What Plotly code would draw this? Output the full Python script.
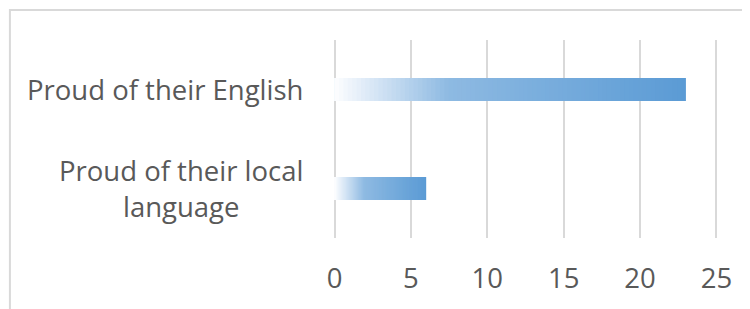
import plotly.graph_objects as go

categories = ["Proud of their English", "Proud of their local language"]
category_labels = ["Proud of their English", "Proud of their local<br>language"]
values = [23, 6]
x_ticks = [0, 5, 10, 15, 20, 25]

# gradient stops (fraction of bar length -> rgb)
stops = [(0.0, (255, 255, 255)), (0.08, (228, 238, 249)), (0.33, (142, 186, 226)), (1.0, (91, 155, 213))]


def grad(f):
    for (f0, c0), (f1, c1) in zip(stops[:-1], stops[1:]):
        if f <= f1:
            t = (f - f0) / (f1 - f0) if f1 > f0 else 0
            return "rgb(%d,%d,%d)" % tuple(round(a + (b - a) * t) for a, b in zip(c0, c1))
    return "rgb(%d,%d,%d)" % stops[-1][1]


FONT = "Open Sans"
GRAY = "#595959"
# page body has an 8px margin, so the figure is 742x301 placed at (8, 8)
W, H = 742, 301
L, R, T, B = 324.5, 32, 32, 71
pw = W - L - R
ph = H - T - B
BAR_W = 23 / (ph / len(categories))  # bar thickness in category units (pixel aligned)

N = 80
fig = go.Figure()
for k in range(N, 0, -1):
    frac = k / N
    fig.add_trace(go.Bar(
        y=categories, x=[v * frac for v in values], orientation="h",
        width=BAR_W, marker=dict(color=grad(frac), line=dict(width=0)),
        hoverinfo="skip", showlegend=False,
    ))

fig.update_layout(
    width=W, height=H, barmode="overlay",
    margin=dict(l=L, r=R, t=T, b=B, pad=0),
    paper_bgcolor="white", plot_bgcolor="white",
    font=dict(family=FONT, color=GRAY, size=27.5),
    xaxis=dict(range=[-0.1, 25.1], tickvals=x_ticks, showgrid=True, gridcolor="#D9D9D9", gridwidth=2,
               zeroline=False, showline=False, ticks="outside", ticklen=16,
               tickcolor="rgba(0,0,0,0)", tickfont=dict(size=27.5, color=GRAY, family=FONT)),
    yaxis=dict(autorange="reversed", showticklabels=False, showgrid=False, zeroline=False,
               showline=False, ticks=""),
)

for cat, lab in zip(categories, category_labels):
    fig.add_annotation(x=-(28.5 / pw), xref="paper", y=cat, yref="y", text=lab, showarrow=False,
                       xanchor="right", yanchor="middle", align="center",
                       font=dict(size=27.5, color=GRAY, family=FONT))

# chart area border (top and left edges visible)
x_left = (1 - L) / pw
y_top = (H - B - 2) / ph
fig.add_shape(type="path", xref="paper", yref="paper",
              path="M %f,%f L %f,%f L %f,%f" % (x_left, -2, x_left, y_top, 2, y_top),
              line=dict(color="#D9D9D9", width=2))

fig.write_html("out.html")
